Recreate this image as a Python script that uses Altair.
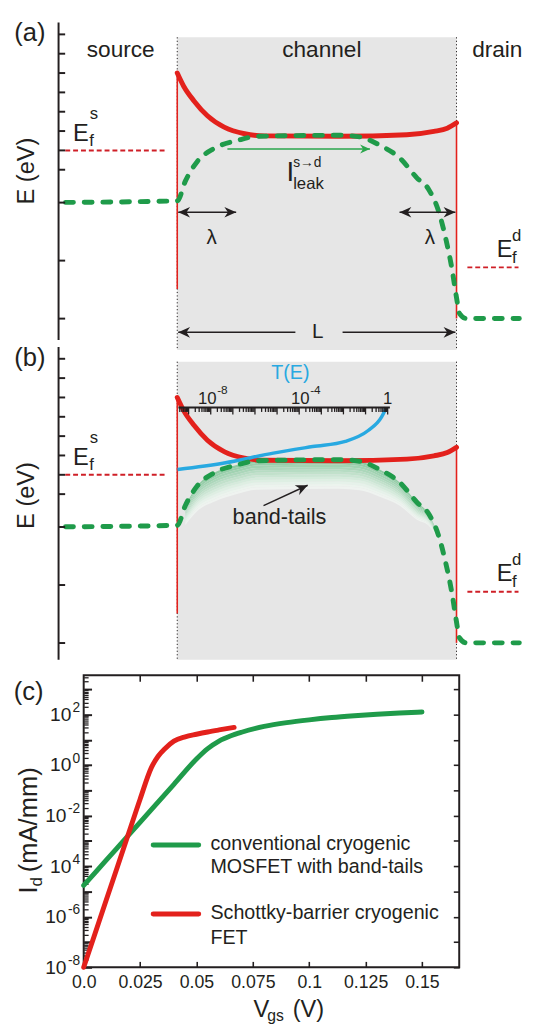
import math
import altair as alt
import pandas as pd

FONT = "Liberation Sans"
INK = "#231f20"
RED = "#e3211c"
RED_FERMI = "#cf1f27"
GREEN = "#1f9b4a"
BLUE = "#28a9e1"
GRAY = "#e6e6e6"

# ================= (a), (b): band diagrams =================
# u : position along the device in % of the channel length L (channel = 0..100)
# E : energy in eV, measured from the source Fermi level E_f^s
RED_U = [0, 2.3, 6.0, 10.8, 16.8, 24.1, 31.3, 58.0, 82.2, 91.9, 96.7, 100]
RED_E = [0.400, 0.332, 0.256, 0.179, 0.120, 0.086, 0.075, 0.073, 0.081, 0.098, 0.115, 0.142]
GREEN_U = [-40.0, 0, 2.9, 7.2, 13.2, 21.7, 28.9, 58.0, 65.3, 72.5, 79.8, 85.8,
           90.1, 93.7, 96.0, 98.4, 99.9, 101.1, 103.5, 122.5]
GREEN_E = [-0.269, -0.261, -0.159, -0.057, 0.010, 0.052, 0.073, 0.078, 0.070, 0.027,
           -0.041, -0.142, -0.203, -0.320, -0.447, -0.615, -0.752, -0.844, -0.869, -0.869]
# band-tail depth (eV) below the green edge, for GREEN points 2..13
TAILS_FIRST = 2
TAIL_DEPTHS = [0.10, 0.13, 0.15, 0.15, 0.15, 0.15, 0.15, 0.14, 0.12, 0.09, 0.06, 0.03]
TAIL_COLORS = ["#8ecaa1", "#97ceaa", "#a1d3b2", "#abd7ba", "#b6dcc3", "#c1e1cb", "#cbe6d4",
               "#d5ebdc", "#deefe3", "#e6f2ea", "#ecf4ee", "#eff3f0"]

CONTACT_U = [0, 100]
CONTACT_TOP = [0.400, 0.142]
CONTACT_BOT = [-0.717, -0.869]

FERMI_U1 = [-40.1, 103.9]
FERMI_U2 = [-4.2, 122.2]
FERMI_E = [0.0, -0.605]

CHANNEL_U = [0, 100]
GRAY_TOP = {"a": 0.585, "b": 0.585}
GRAY_BOT = {"a": -1.032, "b": -0.956}
AXIS_U = -42.5
AXIS_TOP = 0.661
AXIS_BOT = {"a": -0.981, "b": -0.956}
AXIS_TICKS_E = [0.6, 0.5, 0.4, 0.3, 0.2, 0.1, 0.0, -0.1, -0.27, -0.57, -0.87]

# transmission T(E) in panel (b)
TE_LOG10T = [-9.50, -7.39, -5.17, -3.39, -1.91, -0.88, -0.28, -0.06]
TE_E = [0.027, 0.061, 0.112, 0.146, 0.173, 0.229, 0.298, 0.348]
T_AXIS_LOG = [-9.46, 0.10]
T_AXIS_E = 0.348
T_U0, T_U_PER_DEC = 75.35, 7.92
T_BASE = [("10", 14.08, 0.366), ("10", 47.36, 0.366)]
T_EXP = [("-8", 14.3, 0.417), ("-4", 47.6, 0.417)]
T_ONE = [("1", 75.35, 0.366)]

# arrows: panel, u1, E1, u2, E2, head at start, head at end
ARROWS = [
    ("a", 0.35, -0.320, 21.1, -0.320, True, True),
    ("a", 79.6, -0.320, 99.6, -0.320, True, True),
    ("a", 0.35, -0.941, 42.3, -0.941, True, False),
    ("a", 59.2, -0.941, 99.6, -0.941, False, True),
    ("b", 30.9, -0.159, 46.7, -0.054, False, True),
]
LEAK_ARROW = ("a", 17.96, 0.007, 69.0, 0.007)

# annotations (text, u, E in the panel's own frame)
PANEL_TAGS = [("(a)", -52.8, 0.564, "a"), ("(b)", -52.8, 0.564, "b")]
REGIONS = [("source", -20.25, 0.483), ("channel", 51.76, 0.483)]
REGION_RIGHT = [("drain", 123.6, 0.483)]
Y_TITLE = [("E (eV)", -53.9, -0.107)]
FERMI_E_TXT = [("E", -37.3, 0.051), ("E", 114.4, -0.549)]
FERMI_IDX_TXT = [("f", -31.5, 0.025), ("s", -31.3, 0.163), ("f", 119.9, -0.580), ("d", 119.9, -0.468)]
LAMBDA_TXT = [("λ", 12.3, -0.483), ("λ", 90.5, -0.483), ("L", 50.35, -0.971)]
LEAK_TXT = [("I", 39.1, -0.158, "leak_I"), ("s→d", 41.5, -0.086, "leak_sup"), ("leak", 41.5, -0.198, "idx")]
TE_TXT = [("T(E)", 40.5, 0.493)]
TAILS_TXT = [("band-tails", 36.6, -0.254)]

AB_W, AB_H = 446, 648
U_DOMAIN = [-33.5, 123.5]
E_DOMAIN = [-2.6335, 0.6609]
SHIFT_B = 1.6777
PX_PER_U = AB_W / (U_DOMAIN[1] - U_DOMAIN[0])
PX_PER_EV = AB_H / (E_DOMAIN[1] - E_DOMAIN[0])
TICK_U = 6.7 / PX_PER_U


def sh(e, p):
    return e - SHIFT_B if p == "b" else e


XU = alt.Scale(domain=U_DOMAIN, nice=False, zero=False)
YE = alt.Scale(domain=E_DOMAIN, nice=False, zero=False)


def X(f):
    return alt.X(f, type="quantitative", scale=XU, axis=None)


def Y(f):
    return alt.Y(f, type="quantitative", scale=YE, axis=None, stack=None)


# ---- tables ----
gray_df = pd.DataFrame([{"u1": CHANNEL_U[0], "u2": CHANNEL_U[1], "top": sh(GRAY_TOP[p], p), "bot": sh(GRAY_BOT[p], p)} for p in "ab"])
dot_df = pd.DataFrame([{"u": u, "top": sh(GRAY_TOP[p], p), "bot": sh(GRAY_BOT[p], p)} for p in "ab" for u in CHANNEL_U])
contact_df = pd.DataFrame([{"u": CONTACT_U[i], "top": sh(CONTACT_TOP[i], p), "bot": sh(CONTACT_BOT[i], p)} for p in "ab" for i in range(2)])
fermi_df = pd.DataFrame([{"u1": FERMI_U1[i], "u2": FERMI_U2[i], "E": sh(FERMI_E[i], p)} for p in "ab" for i in range(2)])
red_df = pd.DataFrame([{"u": u, "E": sh(e, p), "panel": p} for p in "ab" for u, e in zip(RED_U, RED_E)])
green_df = pd.DataFrame([{"u": u, "E": sh(e, p), "panel": p} for p in "ab" for u, e in zip(GREEN_U, GREEN_E)])
nb = len(TAIL_COLORS)
tail_rows = []
for k in range(nb):
    for j, dep in enumerate(TAIL_DEPTHS):
        i = TAILS_FIRST + j
        step = dep / nb
        tail_rows.append({"u": GREEN_U[i], "top": sh(GREEN_E[i] - k * step, "b"),
                          "bot": sh(GREEN_E[i] - (k + 1) * step, "b"), "band": k})
tails_df = pd.DataFrame(tail_rows)
te_df = pd.DataFrame({"u": [T_U0 + T_U_PER_DEC * v for v in TE_LOG10T], "E": [sh(e, "b") for e in TE_E]})
axis_line_df = pd.DataFrame([{"u": AXIS_U, "top": sh(AXIS_TOP, p), "bot": sh(AXIS_BOT[p], p)} for p in "ab"])
axis_tick_df = pd.DataFrame([{"u1": AXIS_U, "u2": AXIS_U + TICK_U, "E": sh(e, p)} for p in "ab" for e in AXIS_TICKS_E])
t_line_df = pd.DataFrame([{"u1": T_U0 + T_U_PER_DEC * T_AXIS_LOG[0], "u2": T_U0 + T_U_PER_DEC * T_AXIS_LOG[1], "E": sh(T_AXIS_E, "b")}])
t_ticks = []
for n in range(-10, 1):
    for m in range(1, 10):
        lg = n + math.log10(m)
        if T_AXIS_LOG[0] <= lg <= T_AXIS_LOG[1]:
            ln = 7.0 if m == 1 else 4.5
            t_ticks.append({"u": T_U0 + T_U_PER_DEC * lg, "top": sh(T_AXIS_E, "b"), "bot": sh(T_AXIS_E - ln / PX_PER_EV, "b")})
t_tick_df = pd.DataFrame(t_ticks)

seg_rows, head_rows = [], []


def ang(u1, e1, u2, e2):
    return math.degrees(math.atan2(-(e2 - e1) * PX_PER_EV, (u2 - u1) * PX_PER_U)) % 360


for p, u1, e1, u2, e2, hs, he in ARROWS:
    seg_rows.append({"u1": u1, "E1": sh(e1, p), "u2": u2, "E2": sh(e2, p)})
    if hs:
        head_rows.append({"u": u1, "E": sh(e1, p), "ang": ang(u2, e2, u1, e1)})
    if he:
        head_rows.append({"u": u2, "E": sh(e2, p), "ang": ang(u1, e1, u2, e2)})
seg_df = pd.DataFrame(seg_rows)
head_df = pd.DataFrame(head_rows)
p, u1, e1, u2, e2 = LEAK_ARROW
leak_seg_df = pd.DataFrame([{"u1": u1, "E1": e1, "u2": u2, "E2": e2}])
leak_head_df = pd.DataFrame([{"u": u2, "E": e2, "ang": ang(u1, e1, u2, e2)}])

txt = []
for t, u, e, p in PANEL_TAGS:
    txt.append((t, u, sh(e, p), "panel"))
for t, u, e in REGIONS:
    txt.append((t, u, e, "region"))
for t, u, e in REGION_RIGHT:
    txt.append((t, u, e, "region_right"))
for p in "ab":
    for t, u, e in Y_TITLE:
        txt.append((t, u, sh(e, p), "ytitle"))
    for t, u, e in FERMI_E_TXT:
        txt.append((t, u, sh(e, p), "fermi_E"))
    for t, u, e in FERMI_IDX_TXT:
        txt.append((t, u, sh(e, p), "idx"))
for t, u, e in LAMBDA_TXT:
    txt.append((t, u, e, "lambda"))
for t, u, e, s in LEAK_TXT:
    txt.append((t, u, e, s))
for t, u, e in TE_TXT:
    txt.append((t, u, sh(e, "b"), "te"))
for t, u, e in T_BASE:
    txt.append((t, u, sh(e, "b"), "t_base"))
for t, u, e in T_EXP:
    txt.append((t, u, sh(e, "b"), "t_exp"))
for t, u, e in T_ONE:
    txt.append((t, u, sh(e, "b"), "t_one"))
for t, u, e in TAILS_TXT:
    txt.append((t, u, sh(e, "b"), "tails"))
text_df = pd.DataFrame(txt, columns=["text", "u", "E", "style"])

STYLE = {
    "panel": dict(fontSize=26, align="center"),
    "region": dict(fontSize=23, align="center"),
    "region_right": dict(fontSize=23, align="right"),
    "ytitle": dict(fontSize=24, align="center", baseline="middle", angle=270),
    "fermi_E": dict(fontSize=24, align="left"),
    "idx": dict(fontSize=17, align="left"),
    "lambda": dict(fontSize=21, align="center"),
    "leak_I": dict(fontSize=28, align="left"),
    "leak_sup": dict(fontSize=14, align="left"),
    "te": dict(fontSize=20, align="center", color=BLUE),
    "t_base": dict(fontSize=17, align="right"),
    "t_exp": dict(fontSize=12, align="left"),
    "t_one": dict(fontSize=17, align="center"),
    "tails": dict(fontSize=22, align="center"),
}

HEAD = "M0,0L-1,-0.45L-0.7,0L-1,0.45Z"

layers = [
    alt.Chart(gray_df).mark_rect(color=GRAY).encode(x=X("u1"), x2="u2", y=Y("top"), y2="bot"),
    alt.Chart(tails_df).mark_area(interpolate="monotone", opacity=1).encode(
        x=X("u"), y=Y("top"), y2="bot",
        color=alt.Color("band:O", scale=alt.Scale(range=TAIL_COLORS), legend=None)),
    alt.Chart(dot_df).mark_rule(color=INK, strokeWidth=1, strokeDash=[1.2, 2.3]).encode(x=X("u"), y=Y("top"), y2="bot"),
    alt.Chart(contact_df).mark_rule(color=RED, strokeWidth=1.6).encode(x=X("u"), y=Y("top"), y2="bot"),
    alt.Chart(fermi_df).mark_rule(color=RED_FERMI, strokeWidth=2, strokeDash=[5, 3]).encode(x=X("u1"), x2="u2", y=Y("E")),
    alt.Chart(red_df).mark_line(color=RED, strokeWidth=5, interpolate="monotone", strokeCap="round").encode(
        x=X("u"), y=Y("E"), detail="panel:N"),
    alt.Chart(te_df).mark_line(color=BLUE, strokeWidth=3.5, interpolate="monotone").encode(x=X("u"), y=Y("E")),
    alt.Chart(green_df).mark_line(color=GREEN, strokeWidth=5, interpolate="monotone", strokeDash=[8, 11],
                                  strokeCap="round").encode(x=X("u"), y=Y("E"), detail="panel:N"),
    alt.Chart(axis_line_df).mark_rule(color=INK, strokeWidth=2).encode(x=X("u"), y=Y("top"), y2="bot"),
    alt.Chart(axis_tick_df).mark_rule(color=INK, strokeWidth=2).encode(x=X("u1"), x2="u2", y=Y("E")),
    alt.Chart(t_line_df).mark_rule(color=INK, strokeWidth=2.2).encode(x=X("u1"), x2="u2", y=Y("E")),
    alt.Chart(t_tick_df).mark_rule(color=INK, strokeWidth=1.3).encode(x=X("u"), y=Y("top"), y2="bot"),
    alt.Chart(seg_df).mark_rule(color=INK, strokeWidth=1.5).encode(x=X("u1"), y=Y("E1"), x2="u2", y2="E2"),
    alt.Chart(head_df).mark_point(shape=HEAD, filled=True, opacity=1, size=576, color=INK, strokeWidth=0).encode(
        x=X("u"), y=Y("E"), angle=alt.Angle("ang:Q", scale=None)),
    alt.Chart(leak_seg_df).mark_rule(color="#2aa64c", strokeWidth=1.6).encode(x=X("u1"), y=Y("E1"), x2="u2", y2="E2"),
    alt.Chart(leak_head_df).mark_point(shape=HEAD, filled=True, opacity=1, size=400, color="#2aa64c", strokeWidth=0).encode(
        x=X("u"), y=Y("E"), angle=alt.Angle("ang:Q", scale=None)),
]
for key, props in STYLE.items():
    kw = dict(font=FONT, color=INK, baseline="alphabetic")
    kw.update(props)
    layers.append(alt.Chart(text_df).transform_filter(alt.datum.style == key).mark_text(**kw).encode(
        x=X("u"), y=Y("E"), text="text:N"))

ab = alt.layer(*layers).properties(width=AB_W, height=AB_H, view=alt.ViewBackground(stroke=None))

# ================= (c): transfer characteristics =================
VGS_MOS = [0, 0.01, 0.02, 0.03, 0.04, 0.05, 0.055, 0.06, 0.065, 0.07, 0.08, 0.09, 0.10, 0.11, 0.12, 0.13, 0.14, 0.15]
LOG_ID_MOS = [-4.76, -3.76, -2.76, -1.76, -0.76, 0.24, 0.65, 0.95, 1.15, 1.30, 1.53, 1.68, 1.79, 1.88, 1.95, 2.01, 2.06, 2.10]
VGS_SB = [0, 0.005, 0.01, 0.015, 0.02, 0.025, 0.03, 0.033, 0.036, 0.04, 0.045, 0.05, 0.055, 0.06, 0.0667]
LOG_ID_SB = [-8.0, -6.67, -5.34, -4.01, -2.68, -1.35, -0.10, 0.35, 0.65, 0.95, 1.12, 1.22, 1.31, 1.39, 1.49]

X_TICK_VALUES = [0, 0.025, 0.05, 0.075, 0.1, 0.125, 0.15]
X_TICK_LABELS = ["0.0", "0.025", "0.05", "0.075", "0.1", "0.125", "0.15"]
Y_LABEL_VALUES = [1e-8, 1e-6, 1e-4, 1e-2, 1e0, 1e2]
Y_LABEL_BASE = "10"
Y_EXPONENTS = ["-8", "-6", "4", "-2", "0", "2"]
DECADES = [10.0 ** n for n in range(-8, 4)]
MINORS = [m * 10.0 ** n for n in range(-8, 4) for m in range(2, 10) if m * 10.0 ** n < 10 ** 3.55]

LEGEND_V = [0.0308, 0.0510]
LEGEND_LOG_ID = {"mos": -3.16, "sb": -5.89}
LEGEND_TEXT = [("conventional cryogenic", 0.0562, -3.14), ("MOSFET with band-tails", 0.0562, -4.03),
               ("Schottky-barrier cryogenic", 0.0562, -5.86), ("FET", 0.0562, -6.83)]
PANEL_C_TAG = [("(c)", -0.0244, 2.89)]
Y_TITLE_MAIN = [("I", -0.0205, -5.08), ("(mA/mm)", -0.0205, -4.24)]
Y_TITLE_SUB = [("d", -0.0183, -4.80)]
X_TITLE_MAIN = [("V", 0.0753, -9.95), ("(V)", 0.0927, -9.95)]
X_TITLE_SUB = [("gs", 0.0814, -10.14)]

C_W, C_H = 382, 297
XV = alt.Scale(domain=[0, 0.1665], nice=False, zero=False)
YI = alt.Scale(type="log", domain=[1e-8, 10 ** 3.55], nice=False)


def expr_for(values, labels, rel):
    out = "''"
    for v, l in reversed(list(zip(values, labels))):
        cond = f"abs(datum.value / {v!r} - 1) < 1e-6" if rel else f"abs(datum.value - {v!r}) < 1e-9"
        out = f"{cond} ? '{l}' : ({out})"
    return out


def ax(**kw):
    base = dict(title=None, grid=False, labelFont=FONT, labelColor=INK, tickColor=INK, domain=False,
                labelFlush=False, labelOverlap=False)
    base.update(kw)
    return alt.Axis(**base)


def tdf(rows):
    return pd.DataFrame([{"text": t, "V": v, "I": 10 ** l} for t, v, l in rows])


mos_df = pd.DataFrame({"V": VGS_MOS, "I": [10 ** v for v in LOG_ID_MOS]})
sb_df = pd.DataFrame({"V": VGS_SB, "I": [10 ** v for v in LOG_ID_SB]})
leg_df = {k: pd.DataFrame([{"V1": LEGEND_V[0], "V2": LEGEND_V[1], "I": 10 ** v}]) for k, v in LEGEND_LOG_ID.items()}

two_char = [v for v, e in zip(Y_LABEL_VALUES, Y_EXPONENTS) if len(e) == 2]
one_char = [v for v, e in zip(Y_LABEL_VALUES, Y_EXPONENTS) if len(e) == 1]

xl = ax(orient="bottom", values=X_TICK_VALUES, labelExpr=expr_for(X_TICK_VALUES, X_TICK_LABELS, False),
        ticks=False, labelFontSize=18, labelPadding=7)
y_base2 = ax(orient="left", values=two_char, labelExpr=f"'{Y_LABEL_BASE}'", ticks=False, labelFontSize=19.5, labelPadding=18)
y_base1 = ax(orient="left", values=one_char, labelExpr=f"'{Y_LABEL_BASE}'", ticks=False, labelFontSize=19.5, labelPadding=13)
y_exp = ax(orient="left", values=Y_LABEL_VALUES, labelExpr=expr_for(Y_LABEL_VALUES, Y_EXPONENTS, True),
           ticks=False, labelFontSize=14, labelPadding=4, labelOffset=-7)
x_in_bottom = ax(orient="top", offset=-C_H, values=X_TICK_VALUES[1:], labels=False, tickSize=6, tickWidth=1.6)
x_in_top = ax(orient="bottom", offset=-C_H, values=X_TICK_VALUES[1:], labels=False, tickSize=6, tickWidth=1.6)
y_in_left = ax(orient="right", offset=-C_W, values=DECADES, labels=False, tickSize=8, tickWidth=2)
y_in_left_minor = ax(orient="right", offset=-C_W, values=MINORS, labels=False, tickSize=4.5, tickWidth=1.3)
y_in_right = ax(orient="left", offset=-C_W, values=DECADES, labels=False, tickSize=6, tickWidth=1.6)


def XC(f, axis=None):
    return alt.X(f, type="quantitative", scale=XV, axis=axis)


def YC(f, axis=None):
    return alt.Y(f, type="quantitative", scale=YI, axis=axis)


def ctext(rows, size, align="left", baseline="alphabetic", angle=0, yaxis=None):
    return alt.Chart(tdf(rows)).mark_text(font=FONT, fontSize=size, align=align, baseline=baseline,
                                          angle=angle, color=INK).encode(x=XC("V"), y=YC("I", yaxis), text="text:N")


c_layers = [
    alt.Chart(mos_df).mark_line(color=GREEN, strokeWidth=5, interpolate="monotone", strokeCap="round").encode(
        x=XC("V", xl), y=YC("I", y_base2)),
    alt.Chart(sb_df).mark_line(color=RED, strokeWidth=5, interpolate="monotone", strokeCap="round").encode(
        x=XC("V", x_in_bottom), y=YC("I", y_in_left)),
    alt.Chart(leg_df["mos"]).mark_rule(color=GREEN, strokeWidth=5, strokeCap="round").encode(
        x=XC("V1", x_in_top), x2="V2", y=YC("I", y_in_right)),
    alt.Chart(leg_df["sb"]).mark_rule(color=RED, strokeWidth=5, strokeCap="round").encode(
        x=XC("V1"), x2="V2", y=YC("I", y_in_left_minor)),
    ctext(LEGEND_TEXT, 20, baseline="middle", yaxis=y_base1),
    ctext(PANEL_C_TAG, 26, align="center", baseline="middle", yaxis=y_exp),
    ctext(Y_TITLE_MAIN, 26, angle=270),
    ctext(Y_TITLE_SUB, 17, angle=270),
    ctext(X_TITLE_MAIN, 24),
    ctext(X_TITLE_SUB, 16),
]
c = alt.layer(*c_layers).resolve_axis(x="independent", y="independent").properties(
    width=C_W, height=C_H, view=alt.ViewBackground(stroke=INK, strokeWidth=2))

chart = alt.vconcat(ab, c, spacing=12).properties(
    padding={"left": 4, "top": 4, "right": 0, "bottom": 0}
).configure(font=FONT)

chart.save("out.html", embed_options={"renderer": "svg", "actions": False})
